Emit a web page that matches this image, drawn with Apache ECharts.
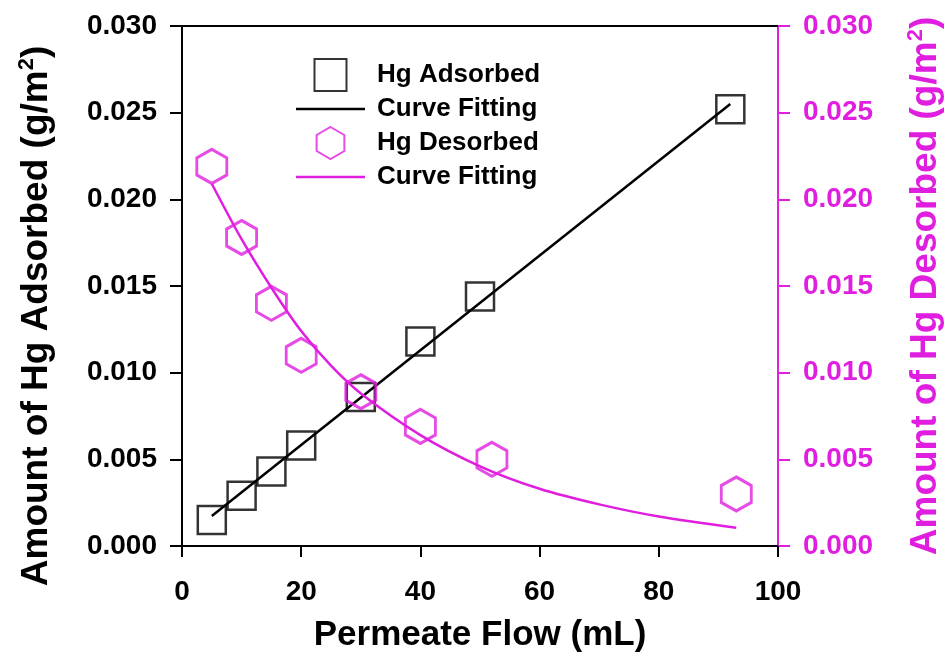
<!DOCTYPE html>
<html>
<head>
<meta charset="utf-8">
<script src="https://cdn.jsdelivr.net/npm/echarts@6/dist/echarts.min.js"></script>
<style>
  html, body { margin: 0; padding: 0; background: #fff; }
  #chart { width: 948px; height: 659px; }
</style>
</head>
<body>
<div id="chart"></div>
<script>
// Measured mercury uptake on the membrane vs. permeate volume
const adsorbedFlow = [5, 10, 15, 20, 30, 40, 50, 92];
const adsorbedAmount = [0.0015, 0.0029, 0.0043, 0.0058, 0.0086, 0.0118, 0.0144, 0.0252];

// Linear fit endpoints for the adsorbed data
const adsorbedFitFlow = [5, 92];
const adsorbedFitAmount = [0.00173, 0.0255];

// Mercury released during desorption
const desorbedFlow = [5, 10, 15, 20, 30, 40, 52, 93];
const desorbedAmount = [0.0219, 0.0178, 0.0140, 0.0110, 0.0089, 0.0069, 0.0050, 0.0030];

// Decay curve fitted to the desorbed data
const desorbedFitFlow = [5, 10, 15, 20, 25, 30, 40, 50, 60, 70, 80, 93];
const desorbedFitAmount = [0.0209, 0.0177, 0.0149, 0.0124, 0.0104, 0.0088, 0.0064, 0.0046, 0.0033, 0.0024, 0.0017, 0.00105];

const xTicks = [0, 20, 40, 60, 80, 100];
const yTicks = [0, 0.005, 0.010, 0.015, 0.020, 0.025, 0.030];

const MAGENTA = '#e01ee0';
const FONT = '"Liberation Sans", Arial, sans-serif';

const zip = (xs, ys) => xs.map((x, i) => [x, ys[i]]);

const legendNames = {
  ads: 'Hg Adsorbed',
  adsFit: 'Curve Fitting',
  des: 'Hg Desorbed',
  desFit: 'Curve Fitting'
};

const hexagon = 'path://M0,-1L0.866,-0.5L0.866,0.5L0,1L-0.866,0.5L-0.866,-0.5Z';
const squareIcon = 'path://M0,0H10V10H0Z';
const lineIcon = 'path://M0,0H69V2.6H0Z';

function yAxisCommon(color, side) {
  return {
    type: 'value',
    position: side,
    min: yTicks[0],
    max: yTicks[yTicks.length - 1],
    interval: yTicks[1] - yTicks[0],
    splitLine: { show: false },
    axisLine: { show: true, onZero: false, lineStyle: { color: color, width: 2 } },
    axisTick: { show: true, inside: false, length: 12, lineStyle: { color: color, width: 2 } },
    axisLabel: {
      color: color, fontFamily: FONT, fontWeight: 'bold', fontSize: 28,
      margin: 25,
      formatter: v => v.toFixed(3)
    },
    nameLocation: 'middle',
    nameRotate: 90,
    nameTextStyle: {
      color: color, fontFamily: FONT, fontWeight: 'bold', fontSize: 37,
      rich: {
        t: { color: color, fontFamily: FONT, fontWeight: 'bold', fontSize: 37, lineHeight: 42 },
        s: { color: color, fontFamily: FONT, fontWeight: 'bold', fontSize: 22, lineHeight: 42, verticalAlign: 'top', padding: [0, 0, 15, 0] }
      }
    }
  };
}

const leftAxis = yAxisCommon('#000', 'left');
leftAxis.name = '{t|Amount of Hg Adsorbed (g/m}{s|2}{t|)}';
leftAxis.nameGap = 124;
leftAxis.nameTextStyle.padding = [0, 60, 0, 0];

const rightAxis = yAxisCommon(MAGENTA, 'right');
rightAxis.name = '{t|Amount of Hg Desorbed (g/m}{s|2}{t|)}';
rightAxis.nameGap = 127;

const chart = echarts.init(document.getElementById('chart'), null, { renderer: 'canvas' });

chart.setOption({
  animation: false,
  backgroundColor: '#fff',
  grid: { left: 182, right: 170, top: 26, bottom: 113, show: false, containLabel: false, outerBoundsMode: 'none' },
  legend: {
    orient: 'vertical',
    left: 291,
    top: 53,
    itemWidth: 69,
    itemHeight: 32,
    itemGap: 4,
    selectedMode: false,
    data: [
      { name: 'ads', icon: squareIcon },
      { name: 'adsFit', icon: lineIcon },
      { name: 'des', icon: hexagon },
      { name: 'desFit', icon: lineIcon }
    ],
    formatter: n => legendNames[n],
    textStyle: { color: '#000', fontFamily: FONT, fontWeight: 'bold', fontSize: 26, padding: [0, 0, 0, 7] }
  },
  xAxis: [
    {
      type: 'value',
      position: 'bottom',
      min: xTicks[0],
      max: xTicks[xTicks.length - 1],
      interval: xTicks[1] - xTicks[0],
      splitLine: { show: false },
      axisLine: { show: true, onZero: false, lineStyle: { color: '#000', width: 2 } },
      axisTick: { show: true, inside: false, length: 11, lineStyle: { color: '#000', width: 2 } },
      axisLabel: { color: '#000', fontFamily: FONT, fontWeight: 'bold', fontSize: 28, margin: 32 },
      name: 'Permeate Flow (mL)',
      nameLocation: 'middle',
      nameGap: 72,
      nameTextStyle: { color: '#000', fontFamily: FONT, fontWeight: 'bold', fontSize: 35 }
    },
    {
      // top frame line
      type: 'value',
      position: 'top',
      min: xTicks[0],
      max: xTicks[xTicks.length - 1],
      splitLine: { show: false },
      axisLine: { show: true, onZero: false, lineStyle: { color: '#000', width: 2 } },
      axisTick: { show: false },
      axisLabel: { show: false }
    }
  ],
  yAxis: [leftAxis, rightAxis],
  series: [
    {
      name: 'adsFit',
      type: 'line',
      xAxisIndex: 0,
      yAxisIndex: 0,
      data: zip(adsorbedFitFlow, adsorbedFitAmount),
      symbol: 'none',
      showSymbol: false,
      lineStyle: { color: '#000', width: 2.5 },
      itemStyle: { color: '#000' },
      z: 2
    },
    {
      name: 'ads',
      type: 'scatter',
      xAxisIndex: 0,
      yAxisIndex: 0,
      data: zip(adsorbedFlow, adsorbedAmount),
      symbol: 'rect',
      symbolSize: 28,
      itemStyle: { color: 'rgba(0,0,0,0)', borderColor: '#000', borderWidth: 2.5 },
      z: 3
    },
    {
      name: 'desFit',
      type: 'line',
      xAxisIndex: 0,
      yAxisIndex: 1,
      data: zip(desorbedFitFlow, desorbedFitAmount),
      smooth: 0.3,
      symbol: 'none',
      showSymbol: false,
      lineStyle: { color: MAGENTA, width: 2.5 },
      itemStyle: { color: MAGENTA },
      z: 4
    },
    {
      name: 'des',
      type: 'scatter',
      xAxisIndex: 0,
      yAxisIndex: 1,
      data: zip(desorbedFlow, desorbedAmount),
      symbol: hexagon,
      symbolSize: [30, 34],
      itemStyle: { color: 'rgba(0,0,0,0)', borderColor: MAGENTA, borderWidth: 3 },
      z: 5
    }
  ]
});
</script>
</body>
</html>
